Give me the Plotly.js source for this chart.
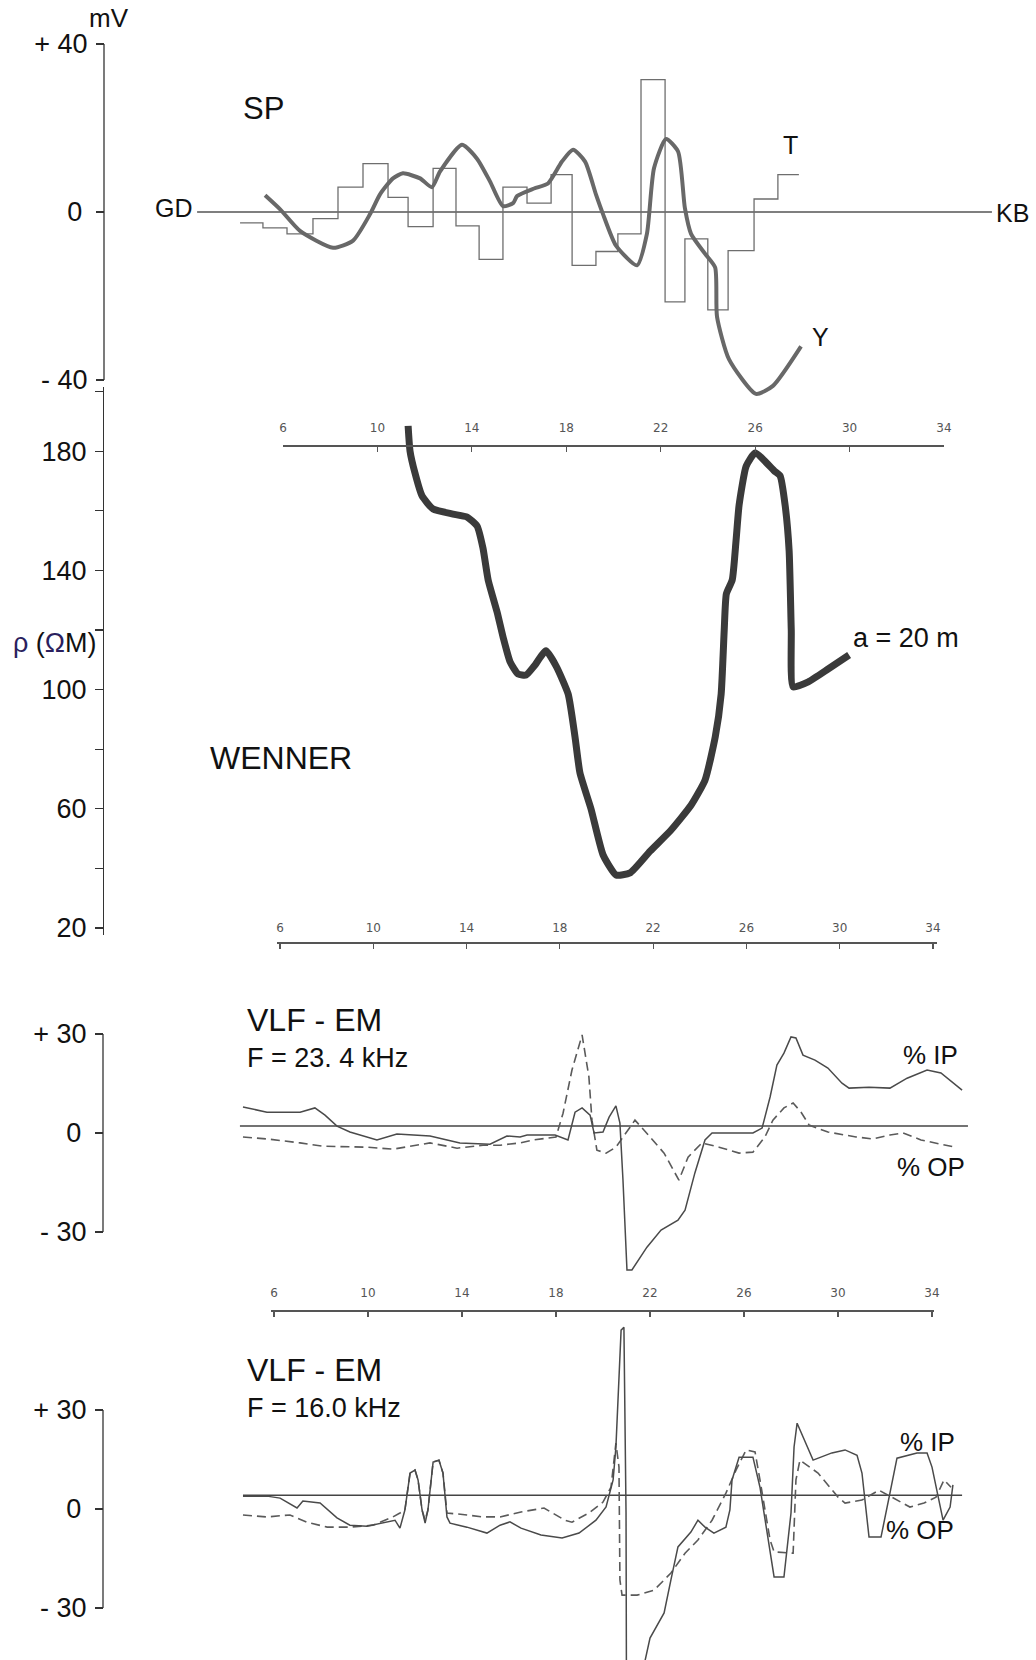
<!DOCTYPE html>
<html><head><meta charset="utf-8">
<script src="https://cdn.plot.ly/plotly-3.0.1.min.js"></script>
<style>html,body{margin:0;padding:0;background:#fff}#chart{width:1036px;height:1660px}</style>
</head><body><div id="chart"></div>
<script>
// ---------------- DATA ----------------
const stationTicks = [6, 10, 14, 18, 22, 26, 30, 34];

// SP profile (station, mV)
const spBaseStation = [2.36, 36.04];
const spBaseMv = [0, 0];
const spStepStation = [4.18,5.15,6.17,7.27,8.33,9.39,10.45,11.30,12.36,13.33,14.31,15.32,16.34,17.36,18.25,19.26,20.19,21.17,22.19,23.03,24.0,24.86,25.96,26.97,27.86];
const spStepMv = [-2.6,-3.8,-5.2,-1.6,5.9,11.5,3.5,-3.5,10.4,-3.3,-11.3,5.9,2.1,8.9,-12.7,-9.4,-5.2,31.5,-21.4,-6.4,-23.3,-9.2,3.1,8.9,8.9];
const spCurveStation = [5.24,5.87,6.72,8.12,8.97,9.69,10.11,10.66,11.08,11.81,12.31,12.65,13.58,14.22,14.77,15.32,15.75,15.92,16.64,17.23,17.82,18.29,18.80,19.26,19.56,20.11,21.0,21.42,21.72,22.23,22.74,23.03,23.29,23.88,24.31,24.39,24.90,26.04,26.76,27.95];
const spCurveMv = [4.0,0.7,-4.5,-8.5,-6.8,-0.5,4.2,8.0,9.2,8.0,5.9,9.6,16.0,12.7,7.3,1.4,2.1,3.8,5.6,6.8,12.0,14.8,12.0,4.2,-0.5,-8.0,-12.7,-5.2,10.4,17.4,14.4,0.9,-5.2,-9.9,-13.2,-24.9,-35.1,-43.3,-41.4,-32.0];

// Wenner resistivity, a = 20 m (station, ohm-m)
const wennerStation = [11.30,11.38,11.59,11.89,12.36,13.20,13.80,14.22,14.47,14.69,15.07,15.32,15.62,15.96,16.30,16.64,17.14,17.57,18.08,18.37,18.58,19.05,19.56,20.11,20.70,21.55,22.44,23.29,23.88,24.31,24.56,24.69,24.78,25.03,25.19,25.32,25.62,26.0,26.81,27.06,27.27,27.44,27.53,27.61,28.25,29.09,29.98];
const wennerRho = [188.5,180.1,172.7,165.0,160.6,158.9,157.9,154.9,147.5,136.8,126.0,117.7,109.3,105.2,104.9,107.9,113.0,107.9,98.5,84.1,72.0,59.9,44.5,37.8,38.5,45.8,52.9,61.3,69.7,84.1,98.5,120.0,132.1,136.8,149.9,161.9,175.0,179.4,173.4,171.7,161.9,146.5,120.0,100.9,102.6,106.9,111.6];
const wennerTickVals = [20,40,60,80,100,120,140,160,180,200];
const wennerTickText = ['20','','60','','100','','140','','180',''];

// VLF-EM F = 23.4 kHz (station, %)
const vlf1BaseStation = [4.55, 35.53];
const vlf1BaseLevel = [2.1, 2.1];
const vlf1IpStation = [4.68,5.70,7.11,7.74,8.17,8.68,9.23,10.38,11.23,12.64,13.91,15.19,15.91,16.47,16.77,17.96,18.51,18.81,19.11,19.45,19.62,20.0,20.26,20.55,20.72,20.85,21.02,21.23,21.87,22.47,23.19,23.49,23.91,24.34,24.64,25.49,26.38,26.77,27.11,27.40,27.70,28.0,28.21,28.51,29.02,29.57,30.17,30.47,31.32,32.21,32.94,33.79,34.38,35.28];
const vlf1Ip = [7.9,6.3,6.3,7.6,5.4,2.1,0.3,-2.1,-0.3,-0.9,-3.0,-3.4,-0.9,-1.2,-0.6,-0.6,-2.1,6.3,7.6,5.4,0,0.3,4.8,8.2,3.0,-14.3,-41.5,-41.5,-34.6,-29.4,-26.4,-23.4,-12.1,-2.1,0,0,0,1.5,10.9,20.6,24.2,29.1,28.8,23.6,22.1,19.7,15.1,13.6,13.9,13.6,16.6,19.1,18.2,13.0];
const vlf1OpStation = [4.68,5.70,7.11,8.09,9.96,11.06,12.64,13.79,14.89,15.62,16.47,17.06,18.0,18.30,18.68,19.11,19.40,19.53,19.74,20.13,20.55,20.98,21.36,21.74,22.60,23.23,23.62,24.21,24.94,25.79,26.38,26.89,27.23,27.70,28.09,28.43,28.77,29.57,30.77,31.49,32.21,32.77,33.53,34.98];
const vlf1Op = [-1.2,-1.8,-3.0,-4.0,-4.3,-4.9,-3.0,-4.6,-3.7,-3.7,-3.0,-2.1,-1.2,6.0,19.1,29.7,17.0,3.9,-5.2,-6.1,-4.3,0,3.9,0.9,-6.1,-14.3,-7.3,-3.0,-4.3,-6.1,-5.8,-1.2,3.9,7.6,9.1,6.3,2.4,0.3,-1.2,-1.8,-0.6,0,-2.1,-4.3];

// VLF-EM F = 16.0 kHz (station, %)
const vlf2BaseStation = [4.68, 35.28];
const vlf2BaseLevel = [4.2, 4.2];
const vlf2IpStation = [4.68,5.70,6.26,6.98,7.23,7.96,8.68,9.23,9.96,10.64,11.15,11.36,11.57,11.79,12.0,12.13,12.30,12.43,12.55,12.77,13.02,13.19,13.36,13.49,14.21,15.06,15.62,16.04,16.51,17.36,18.26,18.98,19.70,20.13,20.43,20.55,20.68,20.77,20.89,20.94,20.98,21.0,21.36,22.0,22.60,22.89,23.19,23.74,24.04,24.34,24.72,25.23,25.40,25.49,25.79,26.38,26.68,27.28,27.70,28.0,28.13,28.26,28.94,29.74,30.30,30.81,31.02,31.32,31.83,32.21,32.51,33.36,33.79,34.0,34.26,34.47,34.77,34.89];
const vlf2Ip = [3.9,3.9,3.3,0.3,2.4,1.8,-2.7,-4.9,-5.2,-4.3,-3.4,-5.8,-0.3,10.9,11.8,8.8,-0.3,-4.3,-0.3,14.2,14.8,10.9,-2.4,-4.3,-5.5,-7.3,-4.9,-3.9,-5.8,-7.9,-8.8,-7.3,-3.4,0.6,8.8,18.8,39.1,54.2,55.1,29.1,-1.2,-60,-60,-39.1,-31.5,-21.5,-11.5,-7.0,-3.4,-5.5,-7.3,-5.5,-0.3,8.8,15.7,15.7,6.6,-20.6,-20.6,-1.2,18.8,26.0,14.8,17.0,17.9,16.3,10.9,-8.5,-8.5,4.8,15.4,17.0,17.0,12.7,3.6,-3.4,0.6,7.3];
const vlf2OpStation = [4.68,5.70,6.68,7.40,8.26,9.23,10.21,11.06,11.36,11.57,11.79,12.0,12.13,12.30,12.43,12.55,12.77,13.02,13.19,13.36,14.21,14.89,15.62,16.51,17.49,18.38,18.68,19.40,20.0,20.34,20.55,20.68,20.72,20.81,21.45,22.17,22.89,23.49,24.04,24.64,25.23,25.66,26.09,26.47,26.68,27.11,27.28,27.83,28.09,28.21,28.38,29.15,30.0,30.30,31.02,31.74,32.34,33.06,33.66,34.17,34.51,34.81];
const vlf2Op = [-1.8,-2.4,-1.8,-4.0,-5.5,-5.5,-4.9,-2.4,-1.2,-0.3,10.9,11.8,8.8,-0.3,-3.4,-0.3,14.2,14.8,10.9,-1.2,-1.8,-2.4,-2.4,-0.9,0.3,-3.4,-4.0,-1.2,2.1,6.6,20.0,12.7,-21.5,-26.1,-26.1,-24.6,-19.4,-13.4,-9.4,-3.4,4.8,11.8,17.9,17.3,8.8,-9.4,-13.0,-13.4,-13.4,8.8,14.8,10.9,3.6,1.8,2.7,5.7,3.3,0.6,1.8,3.6,8.8,6.6];

const vlfTickVals = [-30, 0, 30];
const vlfTickText = ['- 30', '0\u2009', '+ 30'];
const spTickVals = [-40, 0, 40];
const spTickText = ['- 40', '0\u2009', '+ 40'];

// ---------------- LAYOUT HELPERS ----------------
const W = 1036, H = 1660;
const fx = p => p / W;
const fy = p => 1 - p / H;
function xr(d0, d1, s0, p0, k) { return [s0 + (d0 - p0) / k, s0 + (d1 - p0) / k]; }
function yr(top, bot, v0, p0, k) { return [v0 - (bot - p0) / k, v0 + (p0 - top) / k]; }
const FONT = '"Liberation Sans", Arial, sans-serif';
const INK = '#111';

const yAxisBase = {
  anchor: 'free', showgrid: false, zeroline: false, showline: false,
  ticks: 'outside', ticklen: 8, tickwidth: 1.2, tickcolor: '#333',
  tickfont: {family: FONT, size: 27, color: INK}, ticklabelstandoff: 3,
  fixedrange: true
};
const stationAxisBase = {
  anchor: 'free', side: 'top', showgrid: false, zeroline: false,
  showline: true, linecolor: '#555', linewidth: 1.6,
  ticks: 'inside', ticklen: 5, tickcolor: '#555', tickwidth: 1.2,
  tickvals: stationTicks, ticktext: stationTicks.map(String),
  tickfont: {family: '"DejaVu Sans", sans-serif', size: 12, color: '#555'},
  ticklabelstandoff: 8, fixedrange: true
};

const traces = [
  // SP
  {x: spBaseStation, y: spBaseMv, xaxis: 'x', yaxis: 'y', mode: 'lines', line: {color: '#555', width: 1.6}, hoverinfo: 'skip'},
  {x: spStepStation, y: spStepMv, xaxis: 'x', yaxis: 'y', mode: 'lines', line: {color: '#6e6e6e', width: 1.3, shape: 'hv'}, hoverinfo: 'skip'},
  {x: spCurveStation, y: spCurveMv, xaxis: 'x', yaxis: 'y', mode: 'lines', line: {color: '#686868', width: 4, shape: 'spline', smoothing: 0.6}, hoverinfo: 'skip'},
  // Wenner
  {x: wennerStation, y: wennerRho, xaxis: 'x3', yaxis: 'y2', mode: 'lines', line: {color: '#3a3a3a', width: 7, shape: 'spline', smoothing: 0.5}, hoverinfo: 'skip'},
  {x: [], y: [], xaxis: 'x4', yaxis: 'y2', mode: 'lines', hoverinfo: 'skip'},
  // VLF 23.4 kHz
  {x: vlf1BaseStation, y: vlf1BaseLevel, xaxis: 'x5', yaxis: 'y3', mode: 'lines', line: {color: '#444', width: 1.5}, hoverinfo: 'skip'},
  {x: vlf1OpStation, y: vlf1Op, xaxis: 'x5', yaxis: 'y3', mode: 'lines', line: {color: '#5a5a5a', width: 1.6, dash: '9px,5px'}, hoverinfo: 'skip'},
  {x: vlf1IpStation, y: vlf1Ip, xaxis: 'x5', yaxis: 'y3', mode: 'lines', line: {color: '#4a4a4a', width: 1.5}, hoverinfo: 'skip'},
  {x: [], y: [], xaxis: 'x6', yaxis: 'y3', mode: 'lines', hoverinfo: 'skip'},
  // VLF 16.0 kHz
  {x: vlf2BaseStation, y: vlf2BaseLevel, xaxis: 'x5', yaxis: 'y4', mode: 'lines', line: {color: '#444', width: 1.5}, hoverinfo: 'skip'},
  {x: vlf2OpStation, y: vlf2Op, xaxis: 'x5', yaxis: 'y4', mode: 'lines', line: {color: '#5a5a5a', width: 1.6, dash: '9px,5px'}, hoverinfo: 'skip'},
  {x: vlf2IpStation, y: vlf2Ip, xaxis: 'x5', yaxis: 'y4', mode: 'lines', line: {color: '#4a4a4a', width: 1.5}, hoverinfo: 'skip'}
];

function ann(text, px, py, size, xanchor) {
  return {text: text, x: fx(px), y: fy(py), xref: 'paper', yref: 'paper',
    xanchor: xanchor || 'left', yanchor: 'middle', showarrow: false,
    font: {family: FONT, size: size, color: INK}};
}
const navy = '#2b1f5e';
const annotations = [
  ann('mV', 87, 18, 26),
  ann('SP', 241, 108, 31),
  ann('GD', 195, 208, 25, 'right'),
  ann('KB', 994, 213, 25),
  ann('T', 790, 145, 25, 'center'),
  ann('Y', 820, 337, 25, 'center'),
  ann('<span style="color:' + navy + '">ρ</span> (<span style="color:' + navy + '">Ω</span>M)', 11, 643, 27),
  ann('WENNER', 208, 758, 32),
  ann('a = 20 m', 851, 638, 27),
  ann('VLF - EM', 245, 1020, 32),
  ann('F = 23. 4 kHz', 245, 1058, 27),
  ann('% IP', 901, 1055, 26),
  ann('% OP', 895, 1167, 26),
  ann('VLF - EM', 245, 1370, 32),
  ann('F = 16.0 kHz', 245, 1408, 27),
  ann('% IP', 898, 1442, 26),
  ann('% OP', 884, 1530, 26)
];

const axisLine = (yref, v0, v1, px) => ({type: 'line', xref: 'paper', yref: yref,
  x0: fx(px), x1: fx(px), y0: v0, y1: v1, line: {color: '#333', width: 1.3}});

const layout = {
  width: W, height: H, margin: {l: 0, r: 0, t: 0, b: 0},
  paper_bgcolor: '#fff', plot_bgcolor: 'rgba(0,0,0,0)', showlegend: false,
  // SP (hidden station axis + mV axis)
  xaxis: {domain: [0, 1], range: xr(0, W, 6, 283, 23.6), visible: false, fixedrange: true},
  yaxis: Object.assign({}, yAxisBase, {domain: [fy(405), fy(20)], range: yr(20, 405, 0, 212, 4.2),
    position: fx(104), tickvals: spTickVals, ticktext: spTickText}),
  // Wenner
  yaxis2: Object.assign({}, yAxisBase, {domain: [fy(935), fy(387)], range: yr(387, 935, 20, 928, 2.98),
    position: fx(103), showline: true, linecolor: '#333', linewidth: 1.3,
    tickvals: wennerTickVals, ticktext: wennerTickText}),
  xaxis3: Object.assign({}, stationAxisBase, {domain: [fx(283), fx(944)], range: [6, 34], position: fy(445)}),
  xaxis4: Object.assign({}, stationAxisBase, {domain: [fx(277), fx(937)], range: xr(277, 937, 6, 280, 23.32), position: fy(942), ticklabelstandoff: 5}),
  // VLF
  xaxis5: {domain: [0, 1], range: xr(0, W, 6, 274, 23.5), visible: false, anchor: 'free', position: 0, fixedrange: true},
  yaxis3: Object.assign({}, yAxisBase, {domain: [fy(1290), fy(1015)], range: yr(1015, 1290, 0, 1133, 3.3),
    position: fx(103), tickvals: vlfTickVals, ticktext: vlfTickText}),
  xaxis6: Object.assign({}, stationAxisBase, {domain: [fx(271), fx(934)], range: xr(271, 934, 6, 274, 23.5), position: fy(1310)}),
  yaxis4: Object.assign({}, yAxisBase, {domain: [0, fy(1315)], range: yr(1315, H, 0, 1509, 3.3),
    position: fx(103), tickvals: vlfTickVals, ticktext: vlfTickText}),
  shapes: [
    axisLine('y', -40, 40, 104),
    axisLine('y3', -30, 30, 103),
    axisLine('y4', -30, 30, 103)
  ],
  annotations: annotations
};

Plotly.newPlot('chart', traces, layout, {staticPlot: true, displayModeBar: false});
</script>
</body></html>
